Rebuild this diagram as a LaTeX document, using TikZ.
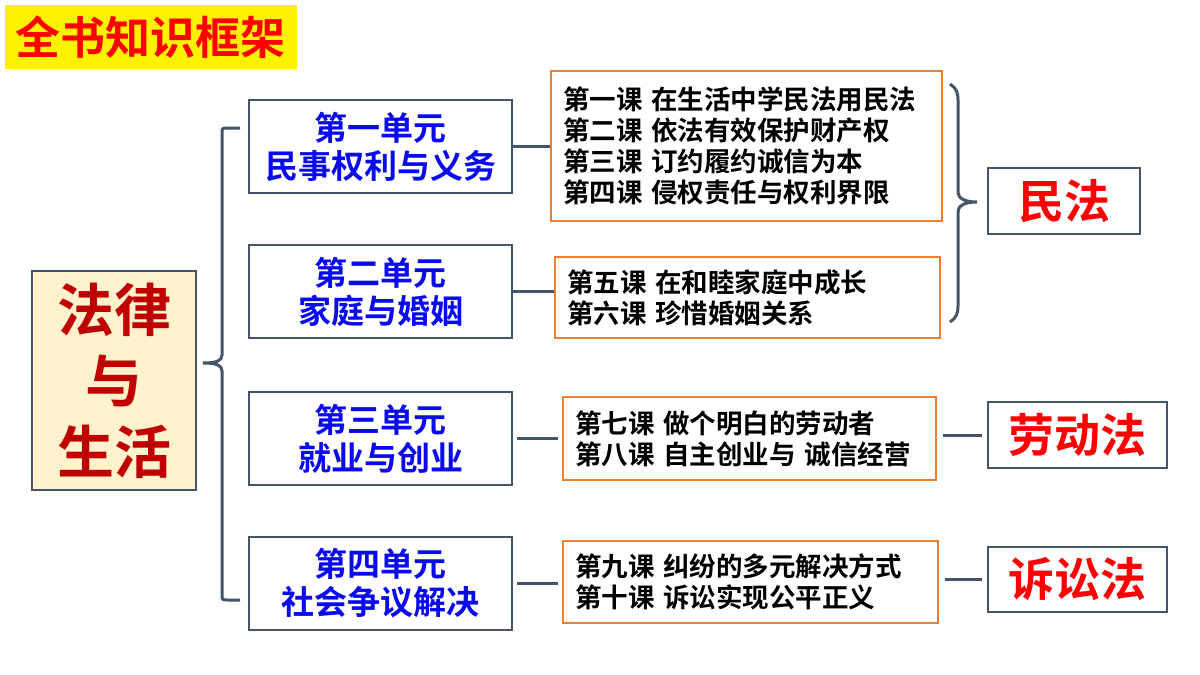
\documentclass[tikz,border=0pt]{standalone}
\usepackage{fontspec}
\setmainfont{Noto Sans CJK SC}[BoldFont={* Bold}]
\usepackage{xcolor}
\usepackage{tikz}
\usetikzlibrary{positioning}

\definecolor{slate}{HTML}{44546A}
\definecolor{lessonorange}{HTML}{ED7D31}
\definecolor{unitblue}{HTML}{0A0AF0}
\definecolor{darkred}{HTML}{C00000}
\definecolor{paleyellow}{HTML}{FFF2CC}

\begin{document}
\begin{tikzpicture}[x=1pt, y=-1pt,
        every node/.style = {shape=rectangle, inner sep=0pt, font=\bfseries},
        unitbox/.style = {draw=slate, line width=2.5pt, fill=white,
            minimum width=263pt, minimum height=93pt, align=center,
            text=unitblue, font=\bfseries\fontsize{33}{38}\selectfont},
        lessonbox/.style = {draw=lessonorange, line width=2.5pt, fill=white,
            inner xsep=12pt, align=left, text=black,
            font=\bfseries\fontsize{26.5}{31}\selectfont},
        lawbox/.style = {draw=slate, line width=2.5pt, fill=white,
            minimum height=66pt, text=red,
            font=\bfseries\fontsize{46}{50}\selectfont},
        link/.style = {draw=slate, line width=3pt}]
        \useasboundingbox (0,0) rectangle (1200,675);

        % title
        \node[fill=yellow, minimum width=292pt, minimum height=64pt,
            text=red, font=\bfseries\fontsize{45}{50}\selectfont]
            (title) at (151,37) {全书知识框架};

        % root
        \node[draw=slate, line width=2.5pt, fill=paleyellow,
            minimum width=164pt, minimum height=219pt, align=center,
            text=darkred, font=\bfseries\fontsize{57}{71}\selectfont]
            (law) at (114,380.5) {法律\\与\\生活};

        % units
        \node[unitbox] (u1) at (380.5,146.5) {第一单元\\民事权利与义务};
        \node[unitbox] (u2) at (380.5,291.5) {第二单元\\家庭与婚姻};
        \node[unitbox] (u3) at (380.5,438.5) {第三单元\\就业与创业};
        \node[unitbox] (u4) at (380.5,583.5) {第四单元\\社会争议解决};

        % lessons
        \node[lessonbox, text width=367pt, minimum height=150pt]
            (l1) at (746.5,146) {第一课 在生活中学民法用民法\\第二课 依法有效保护财产权\\第三课 订约履约诚信为本\\第四课 侵权责任与权利界限};
        \node[lessonbox, text width=361pt, minimum height=81pt]
            (l2) at (747.5,297.5) {第五课 在和睦家庭中成长\\第六课 珍惜婚姻关系};
        \node[lessonbox, text width=349pt, minimum height=83pt]
            (l3) at (749.5,438.5) {第七课 做个明白的劳动者\\第八课 自主创业与 诚信经营};
        \node[lessonbox, text width=351pt, minimum height=82pt]
            (l4) at (750.5,582) {第九课 纠纷的多元解决方式\\第十课 诉讼实现公平正义};

        % laws
        \node[lawbox, minimum width=152pt] (civil) at (1064,201) {民法};
        \node[lawbox, minimum width=179pt] (labour) at (1077.5,435) {劳动法};
        \node[lawbox, minimum width=179pt, minimum height=65pt] (lawsuit) at (1077.5,579.5) {诉讼法};

        % left brace
        \coordinate (bt) at (240,128);
        \coordinate (bb) at (240,600);
        \coordinate (btip) at (203,363);
        \draw[link] (bt) -- (228,128) .. controls (222,128) .. (222,134)
            -- (222,355) .. controls (222,361) and (216,363) .. (btip)
            .. controls (216,363) and (222,365) .. (222,371)
            -- (222,594) .. controls (222,600) .. (228,600) -- (bb);

        % right brace
        \coordinate (rt) at (950,84);
        \coordinate (rb) at (950,322);
        \coordinate (rtip) at (977,202);
        \draw[link] (rt) .. controls (956,88) and (958,92) .. (958,100)
            -- (958,192) .. controls (958,198) and (964,202) .. (rtip)
            .. controls (964,202) and (958,206) .. (958,212)
            -- (958,306) .. controls (958,314) and (956,318) .. (rb);

        % connectors
        \draw[link] (u1.east) -- (u1.east -| l1.west);
        \draw[link] (u2.east) -- (u2.east -| l2.west);
        \draw[link, shorten <=4pt, shorten >=4pt] (u3.east) -- (u3.east -| l3.west);
        \draw[link, shorten <=4pt, shorten >=4pt] (u4.east) -- (u4.east -| l4.west);
        \draw[link, shorten <=6pt, shorten >=5pt] (l3.east |- labour.west) -- (labour.west);
        \draw[link, shorten <=6pt, shorten >=5pt] (l4.east |- lawsuit.west) -- (lawsuit.west);
\end{tikzpicture}
\end{document}
